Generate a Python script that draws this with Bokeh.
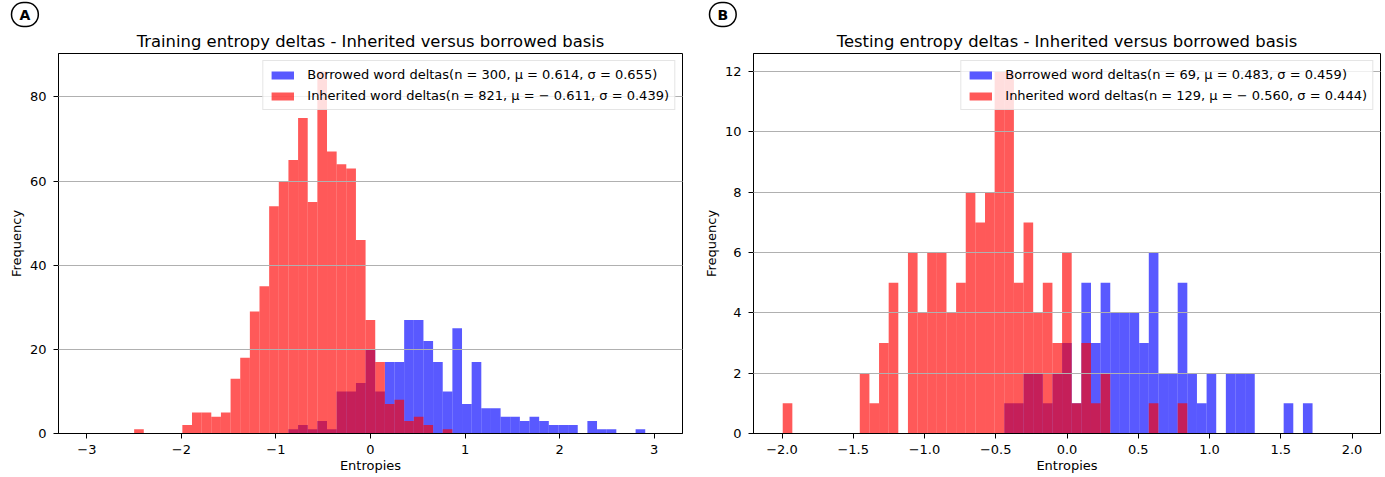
from bokeh.plotting import figure
from bokeh.layouts import row
from bokeh.models import Legend, LegendItem, FixedTicker, Title, Range1d
from bokeh.embed import file_html
from bokeh.resources import INLINE

# ---------------- data ----------------
# Panel A: training entropy deltas (histogram bin counts)
train_bin_width = 0.102
train_inherited_start = -2.50
train_inherited_counts = [1, 0, 0, 0, 0, 2, 5, 5, 4, 5, 13, 18, 29, 35, 54, 60, 65, 75, 55, 86,
                          67, 64, 63, 46, 27, 17, 7, 8, 3, 4, 2, 0, 1]
train_borrowed_start = -0.868
train_borrowed_counts = [1, 2, 1, 3, 1, 10, 10, 12, 20, 10, 17, 17, 27, 27, 22, 17, 10, 25, 7, 17,
                         6, 6, 4, 4, 3, 4, 3, 2, 2, 2, 0, 3, 1, 1, 0, 0, 1]
train_borrowed_label = "Borrowed word deltas(n = 300, μ = 0.614, σ = 0.655)"
train_inherited_label = "Inherited word deltas(n = 821, μ = − 0.611, σ = 0.439)"
train_xticks = [-3, -2, -1, 0, 1, 2, 3]
train_xtick_labels = ["−3", "−2", "−1", "0", "1", "2", "3"]
train_yticks = [0, 20, 40, 60, 80]

# Panel B: testing entropy deltas
test_bin_width = 0.0676
test_inherited_start = -1.995
test_inherited_counts = [1, 0, 0, 0, 0, 0, 0, 0, 2, 1, 3, 5, 0, 6, 4, 6, 6, 4, 5, 8, 7, 8,
                         12, 12, 5, 7, 4, 5, 3, 6, 1, 3, 1, 2, 0, 0, 0, 0, 1, 0, 0, 1]
test_borrowed_start = -0.440
test_borrowed_counts = [1, 1, 2, 2, 1, 2, 3, 1, 5, 3, 5, 4, 4, 4, 3, 6, 2, 2, 5, 2, 1, 2, 0,
                        2, 2, 2, 0, 0, 0, 1, 0, 1]
test_borrowed_label = "Borrowed word deltas(n = 69, μ = 0.483, σ = 0.459)"
test_inherited_label = "Inherited word deltas(n = 129, μ = − 0.560, σ = 0.444)"
test_xticks = [-2.0, -1.5, -1.0, -0.5, 0.0, 0.5, 1.0, 1.5, 2.0]
test_xtick_labels = ["−2.0", "−1.5", "−1.0", "−0.5", "0.0", "0.5", "1.0", "1.5", "2.0"]
test_yticks = [0, 2, 4, 6, 8, 10, 12]

FONT = "DejaVu Sans"
H = 477
TOP = 53
BOTTOM = 44


def edges(start, width, n):
    lefts = [start + i * width for i in range(n)]
    rights = [l + width for l in lefts]
    return lefts, rights


def panel(title, width, bl, br, xr, yr, bstart, bcounts, istart, icounts, bw,
          blabel, ilabel, xticks, xlabels, yticks, letter, letter_offset):
    p = figure(width=width, height=H, x_range=Range1d(*xr), y_range=Range1d(*yr),
               output_backend="svg", toolbar_location=None,
               min_border_left=bl, min_border_right=br, min_border_top=TOP,
               min_border_bottom=BOTTOM)
    p.background_fill_color = "white"
    p.border_fill_color = "white"
    p.outline_line_color = "black"
    p.outline_line_alpha = 1.0
    p.outline_line_width = 1

    bL, bR = edges(bstart, bw, len(bcounts))
    iL, iR = edges(istart, bw, len(icounts))
    rb = p.quad(left=bL, right=bR, bottom=0, top=bcounts, fill_color="blue",
                fill_alpha=0.65, line_color=None)
    ri = p.quad(left=iL, right=iR, bottom=0, top=icounts, fill_color="red",
                fill_alpha=0.65, line_color=None)

    p.xgrid.visible = False
    p.ygrid.grid_line_color = "#b0b0b0"
    p.ygrid.grid_line_width = 1
    p.ygrid.level = "guide"

    p.xaxis.ticker = FixedTicker(ticks=xticks)
    p.xaxis.major_label_overrides = {t: s for t, s in zip(xticks, xlabels)}
    p.yaxis.ticker = FixedTicker(ticks=yticks)
    for ax in (p.xaxis, p.yaxis):
        ax.axis_line_color = "black"
        ax.major_tick_line_color = "black"
        ax.major_tick_in = 0
        ax.major_tick_out = 5
        ax.minor_tick_line_color = None
        ax.major_label_text_font = FONT
        ax.major_label_text_font_size = "13px"
        ax.major_label_text_color = "black"
        ax.axis_label_text_font = FONT
        ax.axis_label_text_font_size = "13px"
        ax.axis_label_text_font_style = "normal"
        ax.axis_label_text_color = "black"
    p.xaxis.axis_label = "Entropies"
    p.yaxis.axis_label = "Frequency"
    p.xaxis.major_label_standoff = 6
    p.xaxis.axis_label_standoff = 1
    p.yaxis.major_label_standoff = 7
    p.yaxis.axis_label_standoff = 3

    legend = Legend(items=[LegendItem(label=blabel, renderers=[rb]),
                           LegendItem(label=ilabel, renderers=[ri])],
                    location="top_right")
    legend.label_text_font = FONT
    legend.label_text_font_size = "13px"
    legend.label_text_color = "black"
    legend.glyph_width = 28
    legend.glyph_height = 10
    legend.label_standoff = 11
    legend.label_height = 17
    legend.spacing = 4
    legend.padding = 5
    legend.margin = 7
    legend.border_line_color = "#cccccc"
    legend.border_line_width = 1
    legend.background_fill_color = "white"
    legend.background_fill_alpha = 0.8
    p.add_layout(legend)

    main_title = Title(text=title, align="center", standoff=6, text_font=FONT,
                       text_font_size="16.4px", text_font_style="normal",
                       text_color="black")
    tag = Title(text=letter, align="left", offset=letter_offset, standoff=0,
                text_font=FONT, text_font_size="14px", text_font_style="bold",
                text_color="black", border_line_color="black", border_line_width=1.5,
                background_fill_color="white", padding=(8, 4), border_radius=13)
    # first entry sits closest to the frame: the title, then the panel tag above it
    p.above = [main_title, tag]
    return p


p1 = panel("Training entropy deltas - Inherited versus borrowed basis", 700, 58, 18,
           (-3.3, 3.3), (0, 90.3), train_borrowed_start, train_borrowed_counts,
           train_inherited_start, train_inherited_counts, train_bin_width,
           train_borrowed_label, train_inherited_label, train_xticks, train_xtick_labels,
           train_yticks, "A", -47)
p2 = panel("Testing entropy deltas - Inherited versus borrowed basis", 685, 53, 5,
           (-2.2, 2.2), (0, 12.6), test_borrowed_start, test_borrowed_counts,
           test_inherited_start, test_inherited_counts, test_bin_width,
           test_borrowed_label, test_inherited_label, test_xticks, test_xtick_labels,
           test_yticks, "B", -44)

layout = row(p1, p2)
open("out.html", "w").write(file_html(layout, INLINE))
